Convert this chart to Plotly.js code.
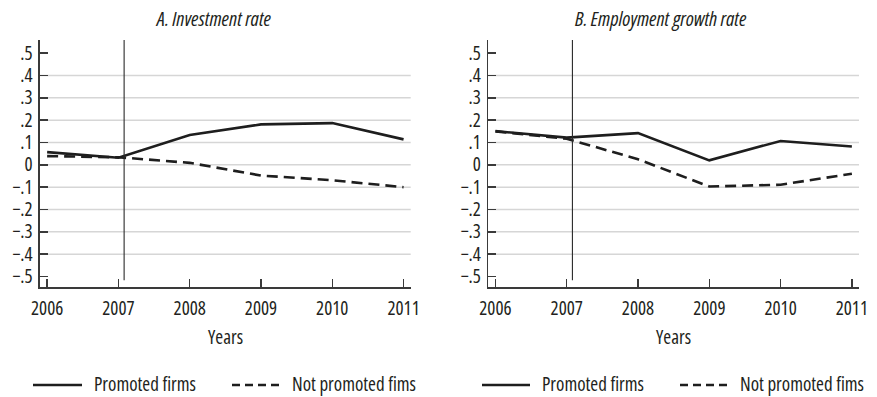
<!DOCTYPE html>
<html>
<head>
<meta charset="utf-8">
<script src="https://cdn.plot.ly/plotly-3.0.1.min.js"></script>
<style>
  html, body { margin: 0; padding: 0; background: #fff; }
  #chart { width: 877px; height: 397px; }
  /* condensed face for every svg label, including Plotly's hidden measuring node */
  text { font-stretch: 80% !important; }
</style>
</head>
<body>
<div id="chart"></div>
<script>
// Years on the horizontal axis
const years = [2006, 2007, 2008, 2009, 2010, 2011];

// Panel A: investment rate
const invPromoted    = [0.057, 0.032, 0.134, 0.181, 0.187, 0.114];
const invNotPromoted = [0.039, 0.034, 0.009, -0.048, -0.069, -0.100];

// Panel B: employment growth rate
const empPromoted    = [0.151, 0.122, 0.142, 0.020, 0.107, 0.082];
const empNotPromoted = [0.150, 0.117, 0.025, -0.097, -0.089, -0.040];

// Axis ticks and labels
const yTickVals = [-0.5, -0.4, -0.3, -0.2, -0.1, 0, 0.1, 0.2, 0.3, 0.4, 0.5];
const yTickText = ['\u2212.5', '\u2212.4', '\u2212.3', '\u2212.2', '\u2212.1', '0', '.1', '.2', '.3', '.4', '.5'];
const gridVals  = [-0.4, -0.3, -0.2, -0.1, 0, 0.1, 0.2, 0.3, 0.4];
const programYear = 2007.08;   // start of the promotion programme
const panelTitles = ['A. Investment rate', 'B. Employment growth rate'];
const seriesNames = ['Promoted firms', 'Not promoted fims'];
const xTitle = 'Years';

const FONT = '"Open Sans", sans-serif';
const INK = '#231f20';
const LINE = '#1e1e1e';
const DASH = '11px,6px';

function series(y, xa, ya, dashed) {
  return {
    x: years, y: y, xaxis: xa, yaxis: ya, type: 'scatter', mode: 'lines',
    line: { color: LINE, width: 2.6, dash: dashed ? DASH : 'solid' },
    hoverinfo: 'x+y', showlegend: false
  };
}

const data = [
  series(invPromoted, 'x', 'y', false),
  series(invNotPromoted, 'x', 'y', true),
  series(empPromoted, 'x2', 'y2', false),
  series(empNotPromoted, 'x2', 'y2', true)
];

const W = 877, H = 397;
const px = v => v / W;
const py = v => 1 - v / H;

const xRange = [2005.9, 2011.1];
const yRange = [-0.547, 0.559];

function xAxis(domain, anchor) {
  return {
    domain: domain, anchor: anchor, range: xRange,
    tickvals: years, ticktext: years.map(String),
    ticks: 'inside', ticklen: 8, tickwidth: 1.4, tickcolor: '#3a3a3a',
    showline: true, linecolor: '#3a3a3a', linewidth: 1.6,
    showgrid: false, zeroline: false,
    tickfont: { family: FONT, size: 19, color: INK },
    ticklabelstandoff: 4
  };
}
function yAxis(anchor) {
  return {
    domain: [py(287), py(40)], anchor: anchor, range: yRange,
    tickvals: yTickVals, ticktext: yTickText,
    ticks: 'inside', ticklen: 8, tickwidth: 1.4, tickcolor: '#3a3a3a',
    showline: true, linecolor: '#3a3a3a', linewidth: 1.6,
    showgrid: false, zeroline: false,
    tickfont: { family: FONT, size: 19, color: INK },
    ticklabelstandoff: 2
  };
}

const shapes = [];
const annotations = [];

// Light horizontal gridlines from -.4 to .4 in each panel
[['x', 'y'], ['x2', 'y2']].forEach(([xa, ya]) => {
  gridVals.forEach(g => {
    shapes.push({
      type: 'line', layer: 'below',
      xref: xa + ' domain', x0: 0, x1: 1,
      yref: ya, y0: g, y1: g,
      line: { color: '#d6d6d6', width: 1.5 }
    });
  });
  // Vertical reference line at the programme start
  shapes.push({
    type: 'line', layer: 'above',
    xref: xa, x0: programYear, x1: programYear,
    yref: ya, y0: -0.517, y1: 0.559,
    line: { color: '#2a2a2a', width: 1.1 }
  });
});

// Panel titles and x-axis titles
const panelCenters = [213, 661];
const xTitleCenters = [226, 673];
panelTitles.forEach((t, i) => {
  annotations.push({
    text: '<i>' + t + '</i>', xref: 'paper', yref: 'paper',
    x: px(panelCenters[i]), y: py(19), xanchor: 'center', yanchor: 'middle',
    showarrow: false, font: { family: FONT, size: 20, color: INK }
  });
  annotations.push({
    text: xTitle, xref: 'paper', yref: 'paper',
    x: px(xTitleCenters[i]), y: py(337), xanchor: 'center', yanchor: 'middle',
    showarrow: false, font: { family: FONT, size: 19, color: INK }
  });
});

// Legend rows beneath each panel
const legendRows = [
  { solid: [33, 82], solidText: 92, dashed: [232, 280], dashedText: 290 },
  { solid: [482, 530], solidText: 540, dashed: [680, 727], dashedText: 738 }
];
const legendY = 385;
legendRows.forEach(r => {
  shapes.push({
    type: 'line', xref: 'paper', yref: 'paper',
    x0: px(r.solid[0]), x1: px(r.solid[1]), y0: py(legendY), y1: py(legendY),
    line: { color: LINE, width: 2.6 }
  });
  shapes.push({
    type: 'line', xref: 'paper', yref: 'paper',
    x0: px(r.dashed[0]), x1: px(r.dashed[1]), y0: py(legendY), y1: py(legendY),
    line: { color: LINE, width: 2.6, dash: '8px,5px' }
  });
  annotations.push({
    text: seriesNames[0], xref: 'paper', yref: 'paper',
    x: px(r.solidText), y: py(legendY - 1), xanchor: 'left', yanchor: 'middle',
    showarrow: false, font: { family: FONT, size: 19, color: INK }
  });
  annotations.push({
    text: seriesNames[1], xref: 'paper', yref: 'paper',
    x: px(r.dashedText), y: py(legendY - 1), xanchor: 'left', yanchor: 'middle',
    showarrow: false, font: { family: FONT, size: 19, color: INK }
  });
});

const layout = {
  width: W, height: H,
  margin: { l: 0, r: 0, t: 0, b: 0 },
  paper_bgcolor: '#ffffff', plot_bgcolor: '#ffffff',
  showlegend: false,
  xaxis: xAxis([px(40), px(410.7)], 'y'),
  yaxis: yAxis('x'),
  xaxis2: xAxis([px(488.3), px(859)], 'y2'),
  yaxis2: yAxis('x2'),
  shapes: shapes,
  annotations: annotations,
  font: { family: FONT, color: INK }
};

Plotly.newPlot('chart', data, layout, { displayModeBar: false, staticPlot: true });
</script>
</body>
</html>
